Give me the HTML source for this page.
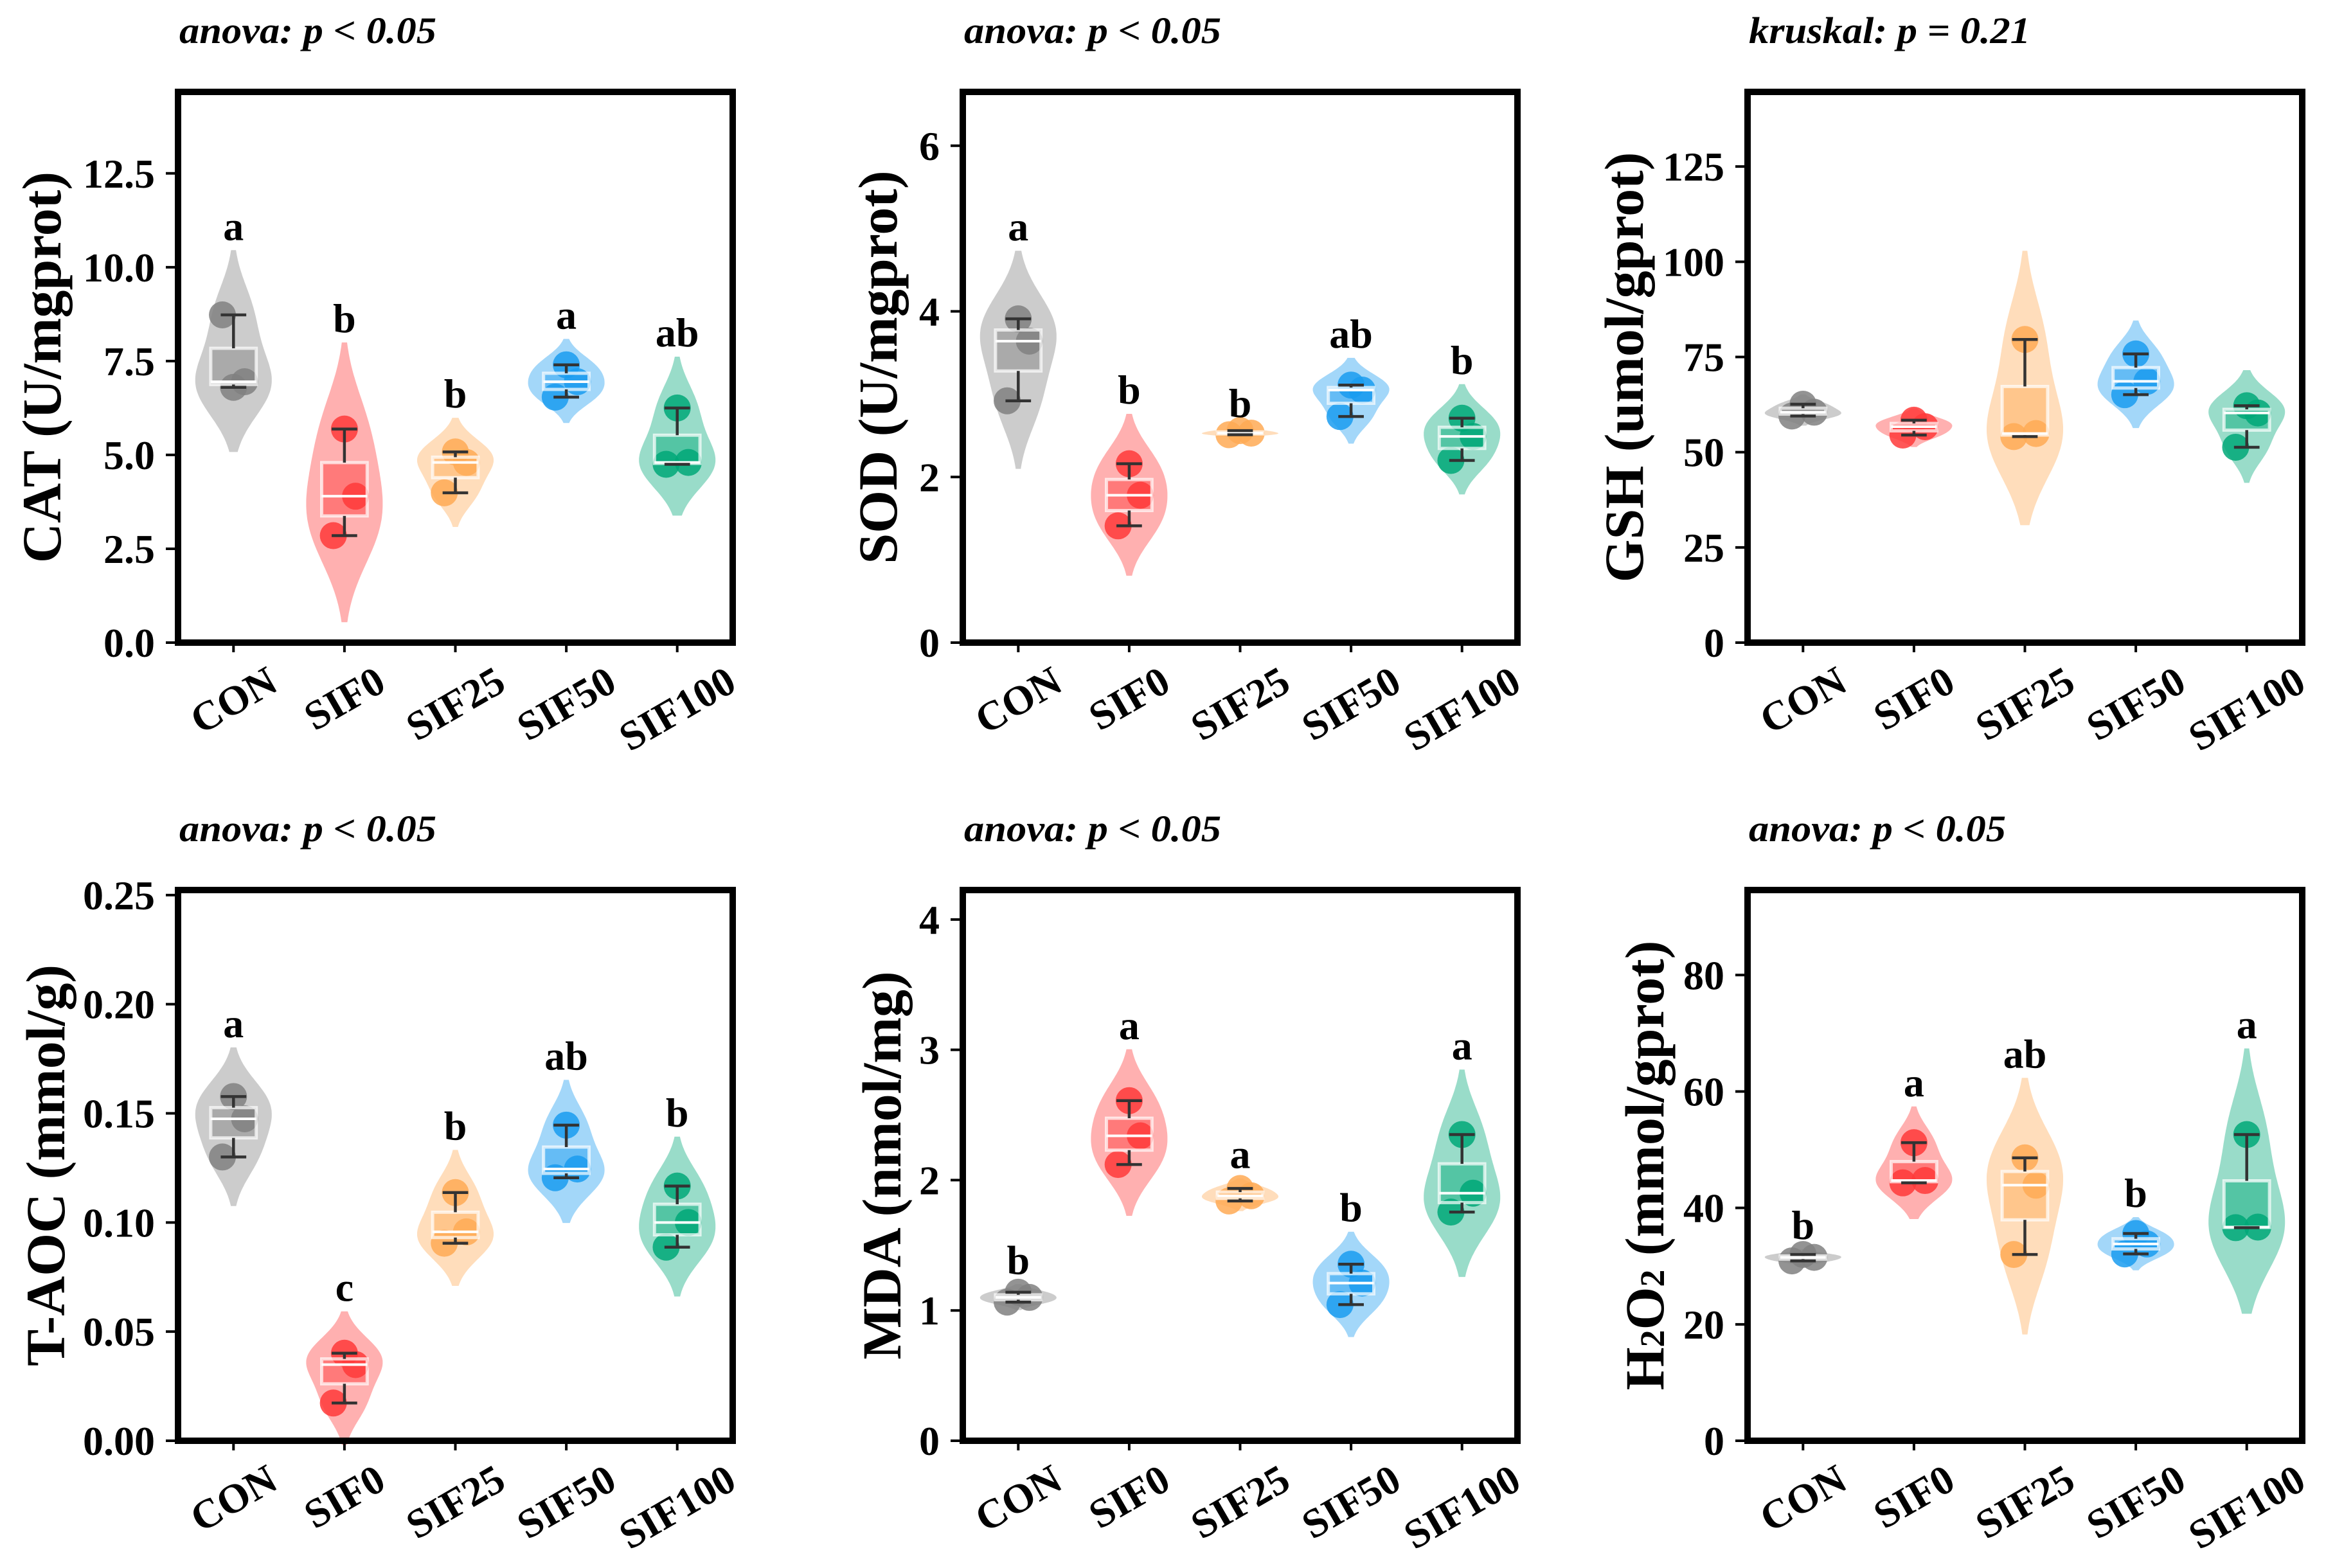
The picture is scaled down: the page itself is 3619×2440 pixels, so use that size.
<!DOCTYPE html>
<html><head><meta charset="utf-8">
<style>
html,body{margin:0;padding:0;background:#fff;}
svg{display:block;}
text{font-family:"Liberation Serif",serif;font-weight:bold;fill:#000;}
</style></head>
<body>
<svg id="fig" width="3619" height="2440" viewBox="0 0 3619 2440" xmlns="http://www.w3.org/2000/svg"></svg>
<script>
const groups = ["CON","SIF0","SIF25","SIF50","SIF100"];
const colors = ["#808080","#ff3a3a","#ffaa55","#1a9cf0","#00a878"];
const catValues = [[8.73,6.95,6.80],[2.85,3.90,5.69],[3.99,4.80,5.08],[6.54,6.95,7.40],[4.75,4.80,6.25]];
const sodValues = [[2.92,3.64,3.91],[1.41,1.78,2.16],[2.51,2.53,2.56],[2.73,3.05,3.11],[2.20,2.49,2.71]];
const gshValues = [[59.5,60.5,62.6],[54.5,56.7,58.4],[54.1,54.9,79.6],[65.1,68.6,75.8],[51.3,60.3,62.2]];
const taocValues = [[0.130,0.1475,0.1577],[0.0173,0.0349,0.0401],[0.0905,0.0957,0.1137],[0.1205,0.1245,0.1446],[0.0887,0.100,0.1167]];
const mdaValues = [[1.064,1.10,1.14],[2.12,2.34,2.61],[1.84,1.88,1.936],[1.045,1.21,1.355],[1.755,1.90,2.35]];
const h2o2Values = [[30.9,31.5,32.0],[44.3,44.7,51.2],[32.0,43.9,48.6],[32.1,33.8,35.6],[36.6,36.7,52.6]];
const catTicks = ["0.0","2.5","5.0","7.5","10.0","12.5"];
const sodTicks = ["0","2","4","6"];
const gshTicks = ["0","25","50","75","100","125"];
const taocTicks = ["0.00","0.05","0.10","0.15","0.20","0.25"];
const mdaTicks = ["0","1","2","3","4"];
const h2o2Ticks = ["0","20","40","60","80"];
const catLetters = ["a","b","b","a","ab"];
const sodLetters = ["a","b","b","ab","b"];
const gshLetters = ["","","","",""];
const taocLetters = ["a","c","b","ab","b"];
const mdaLetters = ["b","a","a","b","a"];
const h2o2Letters = ["b","a","ab","b","a"];
const yMaxes = [14.67, 6.65, 144.6, 0.2523, 4.226, 94.6];
const titles = ["anova: p < 0.05","anova: p < 0.05","kruskal: p = 0.21","anova: p < 0.05","anova: p < 0.05","anova: p < 0.05"];

const NS="http://www.w3.org/2000/svg";
const svg=document.getElementById('fig');
function mk(tag,attrs,parent){const e=document.createElementNS(NS,tag);for(const k in attrs)e.setAttribute(k,attrs[k]);(parent||svg).appendChild(e);return e;}
function quant(s,q){const p=(s.length-1)*q;const lo=Math.floor(p),hi=Math.ceil(p);return s[lo]+(s[hi]-s[lo])*(p-lo);}
function std(a){const m=a.reduce((x,y)=>x+y,0)/a.length;return Math.sqrt(a.reduce((x,y)=>x+(y-m)*(y-m),0)/(a.length-1));}

const panels=[
 {vals:catValues,ticks:catTicks,letters:catLetters,label:"CAT (U/mgprot)",key:"cat",lx:-212},
 {vals:sodValues,ticks:sodTicks,letters:sodLetters,label:"SOD (U/mgprot)",key:"sod",lx:-132},
 {vals:gshValues,ticks:gshTicks,letters:gshLetters,label:"GSH (umol/gprot)",key:"gsh",lx:-192},
 {vals:taocValues,ticks:taocTicks,letters:taocLetters,label:"T-AOC (mmol/g)",key:"taoc",lx:-206},
 {vals:mdaValues,ticks:mdaTicks,letters:mdaLetters,label:"MDA (nmol/mg)",key:"mda",lx:-126},
 {vals:h2o2Values,ticks:h2o2Ticks,letters:h2o2Letters,label:"H2O2",key:"h2o2",lx:-160}
];
const colX=[277,1498,2719], rowY=[143,1385], W=863, H=857;
const jit=[-0.1,0.1,0.0];

panels.forEach((P,pi)=>{
  const L=colX[pi%3], T=rowY[Math.floor(pi/3)], B=T+H, R=L+W;
  const ymax=yMaxes[pi];
  const g=mk('g',{});
  
  
  const y=v=>B-(v/ymax)*H;
  const x=i=>L+(i+0.5)*W/5;
  const sp=W/5;
  const t=mk('text',{x:L+2,y:T-76,'font-size':58,'font-style':'italic','textLength':pi===2?438:400,'lengthAdjust':'spacingAndGlyphs'},g);
  t.textContent=titles[pi];
  
  
  P.vals.forEach((arr,i)=>{
    const s=arr.slice().sort((a,b)=>a-b);
    const n=s.length, bw=std(s)*Math.pow(n,-0.2);
    const lo=s[0]-2*bw, hi=s[n-1]+2*bw;
    const N=120, pts=[]; let dmax=0;
    for(let k=0;k<=N;k++){const v=lo+(hi-lo)*k/N;let d=0;s.forEach(a=>{d+=Math.exp(-0.5*((v-a)/bw)**2);});pts.push([v,d]);if(d>dmax)dmax=d;}
    const hw=0.345*sp, cx=x(i);
    let dpath='';
    pts.forEach((p,k)=>{dpath+=(k?'L':'M')+(cx+p[1]/dmax*hw).toFixed(1)+','+y(p[0]).toFixed(1);});
    for(let k=pts.length-1;k>=0;k--){dpath+='L'+(cx-pts[k][1]/dmax*hw).toFixed(1)+','+y(pts[k][0]).toFixed(1);}
    const vio=mk('path',{d:dpath+'Z',fill:colors[i],'fill-opacity':0.4},g);
    
    
    arr.forEach((v,k)=>{
      const c=mk('circle',{cx:cx+jit[k]*sp,cy:y(v),r:21,fill:colors[i],'fill-opacity':0.85},g);
      
      
    });
    const q1=quant(s,0.25),md=quant(s,0.5),q3=quant(s,0.75);
    const bwid=0.41*sp;
    const box=mk('rect',{x:cx-bwid/2,y:y(q3),width:bwid,height:Math.max(1,y(q1)-y(q3)),fill:colors[i],'fill-opacity':0.45,stroke:'#fff','stroke-opacity':0.7,'stroke-width':5},g);
    
    
    const med=mk('line',{x1:cx-bwid/2,x2:cx+bwid/2,y1:y(md),y2:y(md),stroke:'#fff','stroke-width':4},g);
    
    
    const cw=0.23*sp;
    [[q3,s[n-1]],[q1,s[0]]].forEach(([a,b])=>{
      const wl=mk('line',{x1:cx,x2:cx,y1:y(a),y2:y(b),stroke:'#333','stroke-width':4.5},g);
      
      
      const cp=mk('line',{x1:cx-cw/2,x2:cx+cw/2,y1:y(b),y2:y(b),stroke:'#333','stroke-width':4.5},g);
      
      
    });
    if(P.letters[i]){
      const lt=mk('text',{x:cx,y:y(hi)-16,'font-size':64,'text-anchor':'middle'},g);
      lt.textContent=P.letters[i];
      
      
    }
    mk('line',{x1:cx,x2:cx,y1:B,y2:B+15,stroke:'#000','stroke-width':4},g);
    const xt=mk('text',{x:0,y:0,'font-size':64,'text-anchor':'middle','dominant-baseline':'central'},g);
    xt.textContent=groups[i];
    
    
    const w=xt.getComputedTextLength();
    const hh=(w*0.5+46*0.866)/2;
    xt.setAttribute('transform','translate('+cx+','+(B+34+hh)+') rotate(-30)');
  });
  const step=parseFloat(P.ticks[1]);
  P.ticks.forEach((lab,k)=>{
    const yy=y(step*k);
    mk('line',{x1:L-19,x2:L,y1:yy,y2:yy,stroke:'#000','stroke-width':4},g);
    const tt=mk('text',{x:L-36,y:yy+22,'font-size':64,'text-anchor':'end'},g);
    tt.textContent=lab;
    
    
  });
  const fr=mk('rect',{x:L,y:T,width:W,height:H,fill:'none',stroke:'#000','stroke-width':10},g);
  
  
  const yl=mk('text',{x:0,y:0,'font-size':86,'text-anchor':'middle','dominant-baseline':'central',transform:'translate('+(L+P.lx)+','+(T+H/2)+') rotate(-90)'},g);
  if(P.key==='h2o2'){
    yl.appendChild(document.createTextNode('H'));
    const s1=mk('tspan',{'font-size':54,dy:12},yl);s1.textContent='2';
    const s2=mk('tspan',{dy:-12},yl);s2.textContent='O';
    const s3=mk('tspan',{'font-size':54,dy:12},yl);s3.textContent='2';
    const s4=mk('tspan',{dy:-12},yl);s4.textContent=' (mmol/gprot)';
  } else yl.textContent=P.label;
  
  
});
</script>
</body></html>
